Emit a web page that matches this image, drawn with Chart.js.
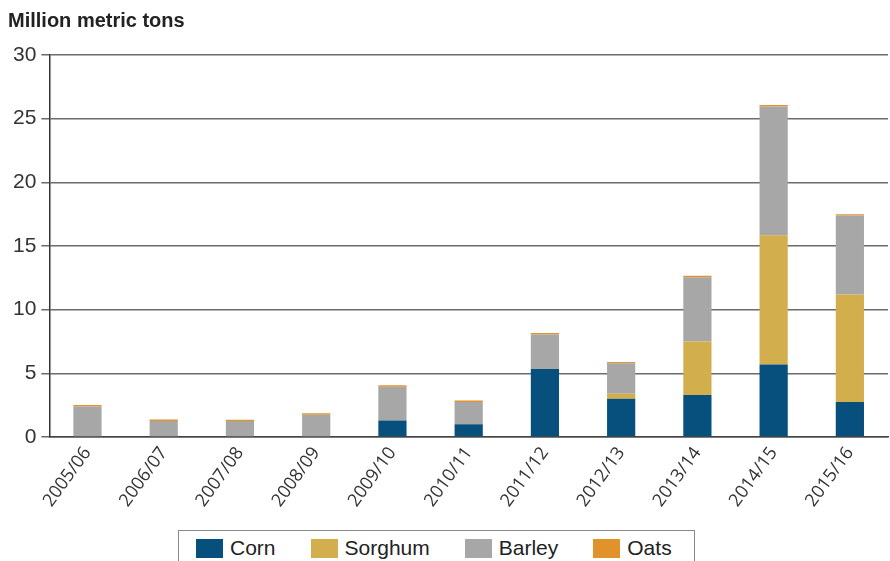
<!DOCTYPE html>
<html>
<head>
<meta charset="utf-8">
<script src="https://cdn.jsdelivr.net/npm/chart.js@4.4.1/dist/chart.umd.min.js"></script>
<style>
    html, body { margin: 0; padding: 0; background: #fff; }
    .wrap { position: relative; width: 890px; height: 561px; overflow: hidden; }
    .chart-box { position: absolute; left: 0; top: 0; width: 890px; height: 517px; }
    .legend {
        position: absolute; left: 178px; top: 530px; width: 517px; height: 40px;
        border: 1.5px solid #888; box-sizing: border-box;
        display: flex; align-items: flex-start; padding: 5px 0 0 17px;
        font-family: "Liberation Sans", Arial, sans-serif; font-size: 21px; color: #222;
    }
    .legend-item { display: flex; align-items: center; margin-right: 35px; }
    .legend-item span.sw { width: 27px; height: 19px; margin-right: 7px; display: inline-block; }
</style>
</head>
<body>
<div class="wrap">
    <div class="chart-box"><canvas id="grainChart"></canvas></div>
    <div class="legend" id="legend"></div>
</div>
<script>
// 시장연도 (marketing years)
const years = ['2005/06', '2006/07', '2007/08', '2008/09', '2009/10', '2010/11',
    '2011/12', '2012/13', '2013/14', '2014/15', '2015/16'];

// million metric tons
const corn    = [0,    0,    0,    0,    1.3,  1.0,  5.35, 3.0,  3.3,  5.7,  2.75];
const sorghum = [0,    0,    0,    0,    0,    0,    0,    0.4,  4.2,  10.15, 8.45];
const barley  = [2.4,  1.25, 1.25, 1.75, 2.65, 1.75, 2.7,  2.4,  5.05, 10.1, 6.2];
const oats    = [0.12, 0.12, 0.1,  0.12, 0.12, 0.12, 0.12, 0.1,  0.12, 0.12, 0.1];

const yTicks = [0, 5, 10, 15, 20, 25, 30];

const seriesNames = ['Corn', 'Sorghum', 'Barley', 'Oats'];
const seriesColors = ['#074f7d', '#d3ae4c', '#a7a7a7', '#e0932a'];
const seriesData = [corn, sorghum, barley, oats];

document.addEventListener('DOMContentLoaded', function() {
    const legend = document.getElementById('legend');
    seriesNames.forEach(function(name, i) {
        const item = document.createElement('div');
        item.className = 'legend-item';
        item.innerHTML = '<span class="sw" style="background:' + seriesColors[i] + '"></span>' + name;
        legend.appendChild(item);
    });

    const ctx = document.getElementById('grainChart').getContext('2d');
    new Chart(ctx, {
        type: 'bar',
        data: {
            labels: years,
            datasets: seriesNames.map(function(name, i) {
                return {
                    label: name,
                    data: seriesData[i],
                    backgroundColor: seriesColors[i],
                    borderWidth: 0,
                    barPercentage: 0.37,
                    categoryPercentage: 1
                };
            })
        },
        options: {
            responsive: true,
            maintainAspectRatio: false,
            animation: false,
            layout: { padding: { left: 8, right: 2, top: 0, bottom: 0 } },
            scales: {
                x: {
                    stacked: true,
                    grid: { display: false, drawTicks: false },
                    border: { color: '#444', width: 1.5 },
                    ticks: {
                        color: '#333',
                        minRotation: 54,
                        maxRotation: 54,
                        padding: 6,
                        font: { family: '"Open Sans", sans-serif', size: 18 }
                    }
                },
                y: {
                    stacked: true,
                    min: 0,
                    max: 30,
                    afterBuildTicks: function(axis) {
                        axis.ticks = yTicks.map(function(v) { return { value: v }; });
                    },
                    grid: {
                        color: '#6b6b6b',
                        lineWidth: 1.5,
                        tickLength: 8,
                        tickColor: '#6b6b6b'
                    },
                    border: { color: '#333', width: 1.5 },
                    ticks: {
                        color: '#333',
                        padding: 5,
                        font: { family: '"Liberation Sans", Arial, sans-serif', size: 21 }
                    }
                }
            },
            plugins: {
                legend: { display: false },
                tooltip: { enabled: false },
                title: {
                    display: true,
                    text: 'Million metric tons',
                    align: 'start',
                    color: '#222',
                    font: { family: '"Liberation Sans", Arial, sans-serif', size: 20, weight: 'bold' },
                    padding: { top: 9, bottom: 22 }
                }
            }
        }
    });
});
</script>
</body>
</html>
